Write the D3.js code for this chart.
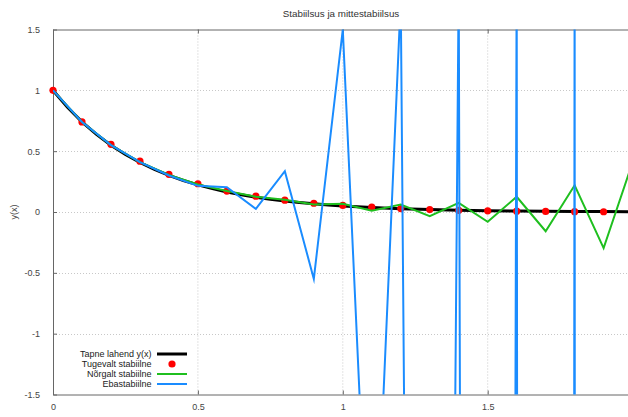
<!DOCTYPE html>
<html><head><meta charset="utf-8">
<script src="https://cdn.jsdelivr.net/npm/d3@7"></script>
<style>
html,body{margin:0;padding:0;background:#fff;overflow:hidden}
text{font-family:"Liberation Sans",Arial,sans-serif}
</style></head>
<body><svg id="c" width="628" height="417"></svg>
<script>
// ---- data ----
const title = "Stabiilsus ja mittestabiilsus";
const yLabel = "y(x)";
const xTicks = [0, 0.5, 1, 1.5];
const xTickLabels = ["0", "0.5", "1", "1.5"];
const yTicks = [-1.5, -1, -0.5, 0, 0.5, 1, 1.5];
const yTickLabels = ["-1.5", "-1", "-0.5", "0", "0.5", "1", "1.5"];
const seriesNames = ["Tapne lahend y(x)", "Tugevalt stabiilne", "Nõrgalt stabiilne", "Ebastabiilne"];

// exact solution (fine sampling)
const exactX = [0,0.05,0.1,0.15,0.2,0.25,0.3,0.35,0.4,0.45,0.5,0.55,0.6,0.65,0.7,0.75,0.8,0.85,0.9,0.95,1.0,1.1,1.2,1.3,1.4,1.5,1.6,1.7,1.8,1.9,2.0];
const exactY = [1.0,0.861,0.741,0.638,0.549,0.472,0.407,0.350,0.301,0.259,0.223,0.192,0.165,0.142,0.122,0.105,0.091,0.078,0.067,0.058,0.050,0.037,0.027,0.020,0.015,0.011,0.008,0.006,0.0045,0.0033,0.0025];

// numerical schemes, step 0.1
const stepX = [0,0.1,0.2,0.3,0.4,0.5,0.6,0.7,0.8,0.9,1.0,1.1,1.2,1.3,1.4,1.5,1.6,1.7,1.8,1.9,2.0];
const strongY = [1,0.74,0.556,0.418,0.31,0.232,0.172,0.13,0.097,0.072,0.054,0.04,0.028,0.02,0.014,0.01,0.007,0.005,0.003,0.002];
const weakY = [1,0.74,0.55,0.41,0.305,0.226,0.172,0.126,0.1,0.062,0.068,0.01,0.062,-0.034,0.075,-0.08,0.125,-0.158,0.22,-0.297,0.41];
const unstableY = [1,0.74,0.55,0.41,0.30,0.215,0.203,0.026,0.336,-0.55,1.5,-3.7,1.75,-27,1.9,-80,2.0,-250,2.3,-800,2.5];

// ---- drawing ----
const svg = d3.select("#c");
const L = 53, R = 632.6, T = 29.5, B = 394.5;
const x = d3.scaleLinear().domain([0, 2]).range([L, R]);
const y = d3.scaleLinear().domain([-1.5, 1.5]).range([B, T]);

const axisCol = "#666", gridCol = "#c8c8c8", txtCol = "#444";

svg.append("defs").append("clipPath").attr("id","clip")
  .append("rect").attr("x",L).attr("y",T).attr("width",R-L).attr("height",B-T);

// grid
const g = svg.append("g");
g.selectAll(".gx").data(xTicks.filter(d=>d>0)).join("line")
  .attr("x1",d=>x(d)).attr("x2",d=>x(d)).attr("y1",T).attr("y2",B)
  .attr("stroke",gridCol).attr("stroke-width",1).attr("stroke-dasharray","1,2");
g.selectAll(".gy").data(yTicks.filter(d=>d>-1.5&&d<1.5)).join("line")
  .attr("y1",d=>Math.round(y(d))+0.5).attr("y2",d=>Math.round(y(d))+0.5).attr("x1",L).attr("x2",R)
  .attr("stroke",gridCol).attr("stroke-width",1).attr("stroke-dasharray","1,2");

// axes via d3 axes
const xAxis = d3.axisBottom(x).tickValues(xTicks).tickFormat((d,i)=>xTickLabels[i]).tickSizeInner(-4).tickSizeOuter(0).tickPadding(9);
const yAxis = d3.axisLeft(y).tickValues(yTicks).tickFormat((d,i)=>yTickLabels[i]).tickSizeInner(-4).tickSizeOuter(0).tickPadding(13);
const xTop = d3.axisTop(x).tickValues(xTicks).tickFormat("").tickSizeInner(-4).tickSizeOuter(0);

function style(sel){
  sel.select(".domain").attr("stroke",axisCol).attr("stroke-width",1);
  sel.selectAll(".tick line").attr("stroke",axisCol);
  sel.selectAll(".tick text").attr("fill",txtCol).style("font-size","9px").style("font-family","'Liberation Sans',Arial,sans-serif");
}
svg.append("g").attr("transform",`translate(0,${B})`).call(xAxis).call(style);
svg.append("g").attr("transform",`translate(${L},0)`).call(yAxis).call(style);
svg.append("g").attr("transform",`translate(0,${T})`).call(xTop).call(style);

// title and y label
svg.append("text").attr("x",341).attr("y",17).attr("text-anchor","middle")
  .attr("fill","#333").style("font-size","9.8px").text(title);
svg.append("text").attr("transform","translate(17,212) rotate(-90)").attr("text-anchor","middle")
  .attr("fill",txtCol).style("font-size","9px").text(yLabel);

// series
const line = d3.line().x(d=>x(d[0])).y(d=>y(d[1]));
const colBlack = "#000", colRed = "#f00", colGreen = "#1fbf1f", colBlue = "#1a8cff";

svg.append("g").attr("clip-path","url(#clip)").append("path")
  .datum(exactX.map((v,i)=>[v,exactY[i]])).attr("d",line)
  .attr("fill","none").attr("stroke",colBlack).attr("stroke-width",3);
svg.append("g").selectAll(".dot").data(strongY.map((v,i)=>[stepX[i],v])).join("circle")
  .attr("cx",d=>x(d[0])).attr("cy",d=>y(d[1])).attr("r",3.6).attr("fill",colRed);
const plot2 = svg.append("g").attr("clip-path","url(#clip)");
plot2.append("path").datum(weakY.map((v,i)=>[stepX[i],v])).attr("d",line)
  .attr("fill","none").attr("stroke",colGreen).attr("stroke-width",2).attr("stroke-linejoin","miter");
plot2.append("path").datum(unstableY.map((v,i)=>[stepX[i],v])).attr("d",line)
  .attr("fill","none").attr("stroke",colBlue).attr("stroke-width",2).attr("stroke-linejoin","miter").attr("stroke-miterlimit",40);

// legend
const leg = svg.append("g");
const rows = [354, 364, 374, 384];
seriesNames.forEach((n,i)=>{
  leg.append("text").attr("x",151.5).attr("y",rows[i]+3).attr("text-anchor","end")
    .attr("fill","#222").style("font-size","9px").text(n);
});
leg.append("line").attr("x1",157).attr("x2",187).attr("y1",rows[0]).attr("y2",rows[0]).attr("stroke",colBlack).attr("stroke-width",3);
leg.append("circle").attr("cx",172).attr("cy",rows[1]).attr("r",3.6).attr("fill",colRed);
leg.append("line").attr("x1",157).attr("x2",187).attr("y1",rows[2]).attr("y2",rows[2]).attr("stroke",colGreen).attr("stroke-width",2);
leg.append("line").attr("x1",157).attr("x2",187).attr("y1",rows[3]).attr("y2",rows[3]).attr("stroke",colBlue).attr("stroke-width",2);
</script></body></html>
